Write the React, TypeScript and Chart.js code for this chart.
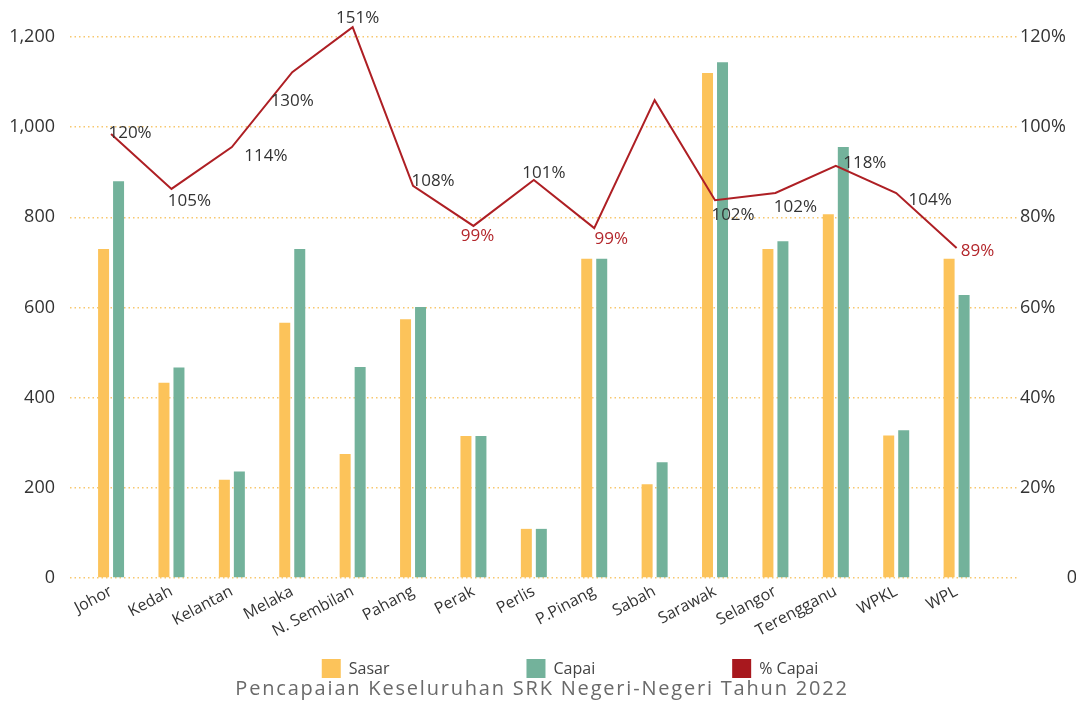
import React, { useEffect, useRef } from 'react';
import { Chart, registerables } from 'chart.js';

Chart.register(...registerables);

const categories = ['Johor', 'Kedah', 'Kelantan', 'Melaka', 'N. Sembilan', 'Pahang', 'Perak', 'Perlis', 'P.Pinang', 'Sabah', 'Sarawak', 'Selangor', 'Terengganu', 'WPKL', 'WPL'];
const sasar = [730, 433, 218, 566, 275, 574, 315, 109, 708, 208, 1120, 730, 807, 316, 708];
const capai = [880, 467, 236, 730, 468, 601, 315, 109, 708, 257, 1144, 747, 956, 328, 628];
// position of the "% Capai" line as drawn against the right axis
const pctCapaiLine = [98.5, 86.3, 95.6, 112.2, 122.2, 87.0, 78.1, 88.3, 77.6, 106.0, 83.8, 85.4, 91.4, 85.4, 73.2];
// value labels printed next to the line (Sabah has none)
const pctLabels = [120, 105, 114, 130, 151, 108, 99, 101, 99, null, 102, 102, 118, 104, 89];
const leftTickValues = [0, 200, 400, 600, 800, 1000, 1200];
const rightTickValues = [0, 20, 40, 60, 80, 100, 120];
const legendLabels = ['Sasar', 'Capai', '% Capai'];
const chartTitle = 'Pencapaian Keseluruhan SRK Negeri-Negeri Tahun 2022';

// style: label centre offset from its point (px)
const labelOffsets: [number, number][] = [
  [19, -1], [18, 12], [34, 9], [0, 29], [5, -9], [20, -5], [4, 10], [10, -7],
  [17, 11], [0, 0], [18, 15], [20, 14], [29, -3], [34, 7], [21, 3],
];

const FONT = "'Open Sans', 'DejaVu Sans', sans-serif";
const COL_SASAR = '#FCC35A';
const COL_CAPAI = '#73B29B';
const COL_LINE = '#AE1F24';
const COL_LINE_LEGEND = '#A8181E';
const COL_GRID = '#F8C86E';

const dataLabelPlugin = {
  id: 'pctLabels',
  afterDatasetsDraw(chart: any) {
    const ctx = chart.ctx;
    const meta = chart.getDatasetMeta(2);
    ctx.save();
    ctx.font = `17px ${FONT}`;
    ctx.textAlign = 'center';
    ctx.textBaseline = 'middle';
    meta.data.forEach((pt: any, i: number) => {
      const v = pctLabels[i];
      if (v === null || v === undefined) return;
      const [dx, dy] = labelOffsets[i];
      ctx.fillStyle = v < 100 ? '#B3262B' : '#333333';
      ctx.fillText(`${v}%`, pt.x + dx, pt.y + dy);
    });
    ctx.restore();
  },
};

const legendPlugin = {
  id: 'bottomLegend',
  afterDraw(chart: any) {
    const ctx = chart.ctx;
    const area = chart.chartArea;
    const box = 19;
    const gapText = 8;
    const spacing = 137;
    const shift = 28;
    ctx.save();
    ctx.font = `16px ${FONT}`;
    ctx.textBaseline = 'middle';
    ctx.textAlign = 'left';
    const items = chart.data.datasets.map((ds: any, i: number) => {
      const w = box + gapText + ctx.measureText(legendLabels[i]).width;
      return { text: legendLabels[i], color: ds.legendColor, w };
    });
    const total = items.reduce((s: number, it: any) => s + it.w, 0) + spacing * (items.length - 1);
    let x = chart.width / 2 + shift - total / 2;
    const top = area.bottom + 81;
    items.forEach((it: any) => {
      ctx.fillStyle = it.color;
      ctx.fillRect(x, top, box, box);
      ctx.fillStyle = '#444444';
      ctx.fillText(it.text, x + box + gapText, top + box / 2 + 1);
      x += it.w + spacing;
    });

    // title
    ctx.font = `20px ${FONT}`;
    (ctx as any).letterSpacing = '1.8px';
    ctx.textAlign = 'center';
    ctx.textBaseline = 'alphabetic';
    ctx.fillStyle = '#6A6A6A';
    ctx.fillText(chartTitle, chart.width / 2, area.bottom + 117);
    ctx.restore();
  },
};

export default function App() {
  const canvasRef = useRef<HTMLCanvasElement | null>(null);

  useEffect(() => {
    document.documentElement.style.overflow = 'hidden';
    const canvas = canvasRef.current;
    if (!canvas) return;
    const chart = new Chart(canvas, {
      type: 'bar',
      data: {
        datasets: [
          {
            type: 'bar',
            label: legendLabels[0],
            data: sasar.map((v, i) => ({ x: i, y: v })),
            backgroundColor: COL_SASAR,
            legendColor: COL_SASAR,
            categoryPercentage: 0.4965,
            barPercentage: 0.733,
            yAxisID: 'y',
            order: 1,
          } as any,
          {
            type: 'bar',
            label: legendLabels[1],
            data: capai.map((v, i) => ({ x: i, y: v })),
            backgroundColor: COL_CAPAI,
            legendColor: COL_CAPAI,
            categoryPercentage: 0.4965,
            barPercentage: 0.733,
            yAxisID: 'y',
            order: 1,
          } as any,
          {
            type: 'line',
            label: legendLabels[2],
            data: pctCapaiLine.map((v, i) => ({ x: i, y: v })),
            borderColor: COL_LINE,
            legendColor: COL_LINE_LEGEND,
            backgroundColor: COL_LINE,
            borderWidth: 2,
            pointRadius: 0,
            tension: 0,
            clip: false,
            yAxisID: 'y1',
            order: 0,
          } as any,
        ],
      },
      options: {
        responsive: false,
        animation: false,
        layout: { padding: { top: 29, left: 0, right: 0, bottom: 28 } },
        plugins: {
          legend: { display: false },
          tooltip: { enabled: false },
          title: { display: false },
        },
        scales: {
          x: {
            type: 'linear',
            position: 'bottom',
            offset: false,
            min: -0.68,
            max: 15.0,
            grid: { display: false, offset: false },
            border: { display: false },
            afterBuildTicks: (axis: any) => {
              axis.ticks = categories.map((_, i) => ({ value: i }));
            },
            afterFit: (s: any) => {
              s.height = 95;
            },
            ticks: {
              autoSkip: false,
              maxRotation: 28,
              minRotation: 28,
              padding: -4,
              color: '#333333',
              font: { family: FONT, size: 16 },
              callback: (v: any) => categories[Math.round(Number(v))] ?? '',
            },
          },
          y: {
            type: 'linear',
            position: 'left',
            min: 0,
            max: 1200,
            afterBuildTicks: (axis: any) => {
              axis.ticks = leftTickValues.map((v) => ({ value: v }));
            },
            afterFit: (s: any) => {
              s.width = 62;
            },
            grid: { color: COL_GRID, lineWidth: 1.5, drawTicks: false },
            border: { display: false, dash: [1.5, 3] },
            ticks: {
              padding: 15,
              color: '#333333',
              font: { family: FONT, size: 18 },
              callback: (v: any) => Number(v).toLocaleString('en-US'),
            },
          },
          y1: {
            type: 'linear',
            position: 'right',
            min: 0,
            max: 120,
            afterBuildTicks: (axis: any) => {
              axis.ticks = rightTickValues.map((v) => ({ value: v }));
            },
            afterFit: (s: any) => {
              s.width = 59;
            },
            grid: { display: false, drawTicks: false },
            border: { display: false },
            ticks: {
              padding: 3,
              color: '#333333',
              font: { family: FONT, size: 18 },
              callback: (v: any) => (Number(v) === 0 ? ' '.repeat(10) + '0' : `${v}%`),
            },
          },
        },
      } as any,
      plugins: [dataLabelPlugin, legendPlugin],
    });
    return () => chart.destroy();
  }, []);

  return (
    <div style={{ width: 1068, height: 693 }}>
      <canvas ref={canvasRef} width={1068} height={693} style={{ display: 'block' }} />
    </div>
  );
}
